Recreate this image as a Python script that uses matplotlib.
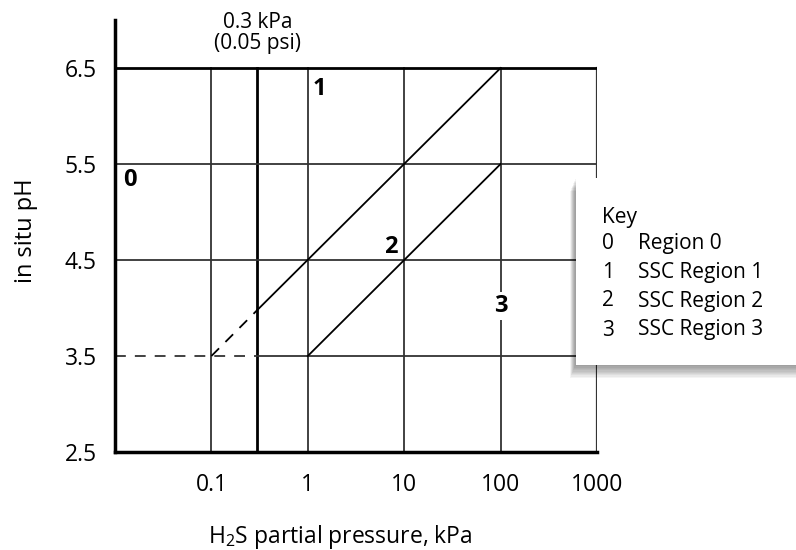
import matplotlib
matplotlib.use('Agg')
import matplotlib.pyplot as plt
from matplotlib.patches import Rectangle

plt.rcParams['font.family'] = ['Open Sans', 'DejaVu Sans']
plt.rcParams['mathtext.fontset'] = 'custom'
plt.rcParams['mathtext.rm'] = 'Open Sans'
plt.rcParams['mathtext.it'] = 'Open Sans:italic'
plt.rcParams['font.size'] = 15

# grid / boundaries (H2S kPa vs in situ pH)
x_grid = [0.1, 1, 10, 100]
x_limit = 0.3                 # 0.3 kPa threshold
y_grid = [3.5, 4.5, 5.5]
x_ticks = [0.1, 1, 10, 100, 1000]
x_ticklabels = ['0.1', '1', '10', '100', '1000']
y_ticks = [2.5, 3.5, 4.5, 5.5, 6.5]
y_ticklabels = ['2.5', '3.5', '4.5', '5.5', '6.5']

# region boundary lines
line1_dash_x = [0.1, 0.3]
line1_dash_y = [3.5, 3.98]
line1_x = [0.3, 100]
line1_y = [3.98, 6.5]
line2_x = [1, 100]
line2_y = [3.5, 5.5]
h_dash_x = [0.01, 0.3]
h_dash_y = [3.5, 3.5]

# region labels
region_names = ['0', '1', '2', '3']
region_x = [0.0143, 1.33, 7.25, 100]
region_y = [5.33, 6.28, 4.635, 4.02]

key_nums = ['0', '1', '2', '3']
key_labels = ['Region 0', 'SSC Region 1', 'SSC Region 2', 'SSC Region 3']

W, H = 796, 550
fig = plt.figure(figsize=(W / 100, H / 100), dpi=100)
ax = fig.add_axes([115 / W, 1 - 452 / H, (597 - 115) / W, (452 - 20) / H])
ax.set_xscale('log')
ax.set_xlim(0.01, 1000)
ax.set_ylim(2.5, 7.0)

grid_col = '#333333'
for gx in x_grid:
    ax.plot([gx, gx], [2.5, 6.5], color=grid_col, lw=1.3)
ax.plot([1000, 1000], [2.5, 6.5], color=grid_col, lw=1.6)
ax.plot([x_limit, x_limit], [2.5, 6.5], color='black', lw=2.0)
for gy in y_grid[1:]:
    ax.plot([0.01, 1000], [gy, gy], color=grid_col, lw=1.3)
ax.plot([x_limit, 1000], [3.5, 3.5], color=grid_col, lw=1.3)
ax.plot([0.01, 1000], [6.5, 6.5], color='black', lw=2.0)

ax.plot(h_dash_x, h_dash_y, color=grid_col, lw=1.3, ls=(0, (6, 5)))
ax.plot(line1_dash_x, line1_dash_y, color='black', lw=1.3, ls=(0, (6, 5)))
ax.plot(line1_x, line1_y, color='black', lw=1.3)
ax.plot(line2_x, line2_y, color='black', lw=1.3)

for name, rx, ry in zip(region_names, region_x, region_y):
    if name == '3':
        ax.text(rx, ry, name, ha='center', va='center', fontsize=17, fontweight='bold',
                bbox=dict(facecolor='white', edgecolor='none', pad=1.5))
    else:
        ax.text(rx, ry, name, ha='center', va='center', fontsize=17, fontweight='bold')

ax.text(x_limit, 6.865, '0.3 kPa\n(0.05 psi)', ha='center', va='center',
        fontsize=15, linespacing=1.05, clip_on=False)

for s in ['top', 'right']:
    ax.spines[s].set_visible(False)
ax.spines['left'].set_linewidth(2.5)
ax.spines['bottom'].set_linewidth(2.5)

ax.set_xticks(x_ticks)
ax.set_xticklabels(x_ticklabels)
ax.set_yticks(y_ticks)
ax.set_yticklabels(y_ticklabels)
ax.minorticks_off()
ax.tick_params(axis='x', length=0, pad=15, labelsize=16.5)
ax.tick_params(axis='y', length=0, pad=13, labelsize=16.5)

fig.text(26 / W, 1 - 231 / H, 'in situ pH', rotation=90, ha='center', va='center', fontsize=17)
fig.text(340 / W, 1 - 543 / H, r'H$_2$S partial pressure, kPa', ha='center', va='baseline', fontsize=16.5)

# key box with soft shadow
bx0, by0, by1 = 576, 178, 365
for i in range(10):
    off = i + 1
    fig.patches.append(Rectangle(((bx0 - 1 - off * 0.5) / W, 1 - (by1 + off * 1.3) / H),
                                 (W - bx0 + 10) / W, (by1 - by0) / H,
                                 transform=fig.transFigure, facecolor='black',
                                 edgecolor='none', alpha=0.045, zorder=5))
fig.patches.append(Rectangle((bx0 / W, 1 - by1 / H), (W - bx0 + 10) / W, (by1 - by0) / H,
                             transform=fig.transFigure, facecolor='white',
                             edgecolor='none', zorder=6))

fig.text(602 / W, 1 - 217 / H, 'Key', ha='left', va='center', fontsize=15, zorder=7)
row_y = [243, 272, 301, 330]
for num, lab, ry in zip(key_nums, key_labels, row_y):
    fig.text(602 / W, 1 - ry / H, num, ha='left', va='center', fontsize=15, zorder=7)
    fig.text(638 / W, 1 - ry / H, lab, ha='left', va='center', fontsize=15, zorder=7)

fig.savefig('out.png', dpi=100)
